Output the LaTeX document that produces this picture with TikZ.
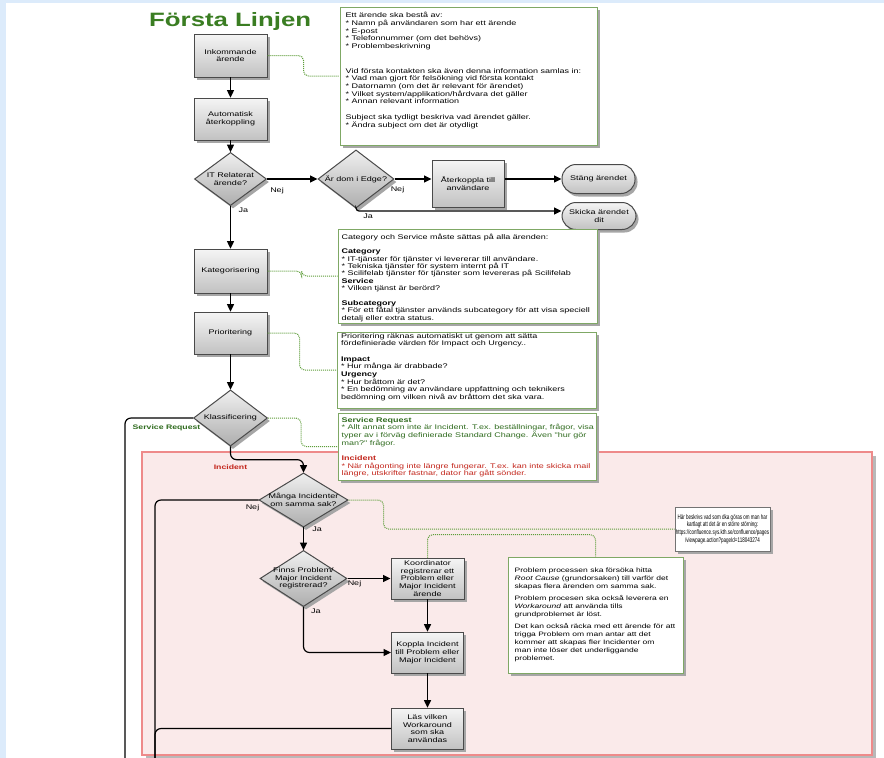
\documentclass[tikz,border=0pt]{standalone}
\usepackage{fontspec}
\setmainfont{Liberation Sans}[Ligatures=TeXOff]
\usetikzlibrary{shapes.geometric,shadows,calc,arrows.meta}

\definecolor{pagebg}{HTML}{DCEBFB}
\definecolor{titlegreen}{HTML}{3A7D22}
\definecolor{notegreen}{HTML}{7FA865}
\definecolor{dotgreen}{HTML}{5E9E3A}
\definecolor{srgreen}{HTML}{2F6B1E}
\definecolor{incred}{HTML}{C3261C}
\definecolor{boxedge}{HTML}{4A4A4A}
\definecolor{pinkfill}{HTML}{FAEAEA}
\definecolor{pinkedge}{HTML}{EE8A8A}

\newcommand{\fsz}[2]{\fontsize{#1}{#2}\selectfont}

\tikzset{
  sz/.style 2 args={minimum width=#1pt, minimum height=#2*1.333333pt},
  casting/.style={drop shadow={shadow xshift=2.5pt, shadow yshift=-3pt, fill=black!35, opacity=1}},
  stepbox/.style={rectangle, draw=boxedge, line width=1pt, top color=black!4, bottom color=black!24,
    casting, inner sep=0pt, align=center, font=\fsz{9}{10.4}},
  terminal/.style={stepbox, rounded corners=14pt},
  decision/.style={diamond, draw=boxedge, line width=1pt, top color=black!6, bottom color=black!32,
    casting, inner sep=0pt},
  dtext/.style={inner sep=0pt, align=center, font=\fsz{9}{10}},
  notebox/.style={rectangle, draw=notegreen, line width=1pt, fill=white, casting, inner sep=0pt},
  notetext/.style={anchor=north west, inner sep=0pt, align=left, font=\fsz{9}{10.2}},
  flow/.style={draw=black, line width=1.2pt, rounded corners=6pt},
  conn/.style={flow, -{Triangle[length=7.5pt,width=7pt]}},
  note/.style={draw=dotgreen, line width=1pt, dash pattern=on 1pt off 1pt, rounded corners=5pt},
  lbl/.style={inner sep=0pt, font=\fsz{9}{10}},
}

\begin{document}
\begin{tikzpicture}[x=1pt, y=-1.333333pt, yscale=0.75, transform shape]
\useasboundingbox (0,0) rectangle (884,758);
\fill[pagebg] (0,0) rectangle (884,758);
\fill[white] (6,3) rectangle (884,758);

% incident lane
\fill[black!28] (146,456) rectangle (875.5,758);
\draw[pinkedge, fill=pinkfill, line width=1.2pt] (142,452) rectangle (872,755);

\node[anchor=base west, inner sep=0pt, font=\fsz{25.8}{30}\bfseries, text=titlegreen] (title) at (149,26) {Första Linjen};

% main column
\node[stepbox, sz={73}{43}] (ink) at (230.5,55.5) {Inkommande\\ärende};
\node[stepbox, sz={73}{42}] (auto) at (230.5,119) {Automatisk\\återkoppling};
\node[decision, sz={72}{53}] (itrel) at (230.5,179) {};
\node[dtext] (itrelt) at (itrel) {IT Relaterat\\ärende?};
\node[decision, sz={76}{58}] (edge) at (356,179) {};
\node[dtext] (edget) at (edge) {Är dom i Edge?};
\node[stepbox, sz={72}{47}] (feedback) at (468,183.5) {Återkoppla till\\användare};
\node[terminal, sz={73}{29}] (close) at (598.5,179) {Stäng ärendet};
\node[terminal, sz={74}{27}] (send) at (599,216) {Skicka ärendet\\dit};
\node[stepbox, sz={73}{44}] (cat) at (230.5,271) {Kategorisering};
\node[stepbox, sz={73}{42}] (prio) at (230.5,333) {Prioritering};
\node[decision, sz={74}{56}] (klass) at (230.5,418) {};
\node[dtext] (klasst) at (klass) {Klassificering};

% incident handling
\node[decision, sz={89}{54}] (many) at (303.5,500) {};
\node[dtext] (manyt) at (many) {Många Incidenter\\om samma sak?};
\node[decision, sz={87}{56}] (exists) at (303.5,578.5) {};
\node[dtext] (existst) at (exists) {Finns Problem/\\Major Incident\\registrerad?};
\node[stepbox, sz={73}{41}] (coord) at (427.5,578.5) {Koordinator\\registrerar ett\\Problem eller\\Major Incident\\ärende};
\node[stepbox, sz={72}{41}] (link) at (427.5,652.5) {Koppla Incident\\till Problem eller\\Major Incident};
\node[stepbox, sz={72}{41}] (workaround) at (427.5,728.5) {Läs vilken\\Workaround\\som ska\\användas};

% notes
\node[notebox, sz={257}{138}] (ann1) at (468.5,76) {};
\node[notetext] (ann1t) at ($(ann1.north west)+(6,5.5)$) {Ett ärende ska bestå av:\\
* Namn på användaren som har ett ärende\\
* E-post\\
* Telefonnummer (om det behövs)\\
* Problembeskrivning\\[23pt]
Vid första kontakten ska även denna information samlas in:\\
* Vad man gjort för felsökning vid första kontakt\\
* Datornamn (om det är relevant för ärendet)\\
* Vilket system/applikation/hårdvara det gäller\\
* Annan relevant information\\[11pt]
Subject ska tydligt beskriva vad ärendet gäller.\\
* Ändra subject om det är otydligt};

\node[notebox, sz={259}{94}] (ann2) at (467.5,276) {};
\node[notetext, font=\fsz{9}{9.8}] (ann2t) at ($(ann2.north west)+(4,5)$) {Category och Service måste sättas på alla ärenden:\\[9.8pt]
\textbf{Category}\\
* IT-tjänster för tjänster vi levererar till användare.\\
* Tekniska tjänster för system internt på IT\\
* Scilifelab tjänster för tjänster som levereras på Scilifelab\\
\textbf{Service}\\
* Vilken tjänst är berörd?\\[9.8pt]
\textbf{Subcategory}\\
* För ett fåtal tjänster används subcategory för att visa speciell\\
detalj eller extra status.};

\node[notebox, sz={259}{76}] (ann3) at (466.5,370) {};
\node[notetext] (ann3t) at ($(ann3.north west)+(4.5,1.5)$) {Prioritering räknas automatiskt ut genom att sätta\\
fördefinierade värden för Impact och Urgency..\\[10.2pt]
\textbf{Impact}\\
* Hur många är drabbade?\\
\textbf{Urgency}\\
* Hur bråttom är det?\\
* En bedömning av användare uppfattning och teknikers\\
bedömning om vilken nivå av bråttom det ska vara.};

\node[notebox, sz={258}{67}] (ann4) at (467,446.5) {};
\node[notetext] (ann4t) at ($(ann4.north west)+(4,4.5)$) {\textcolor{srgreen}{\textbf{Service Request}}\\
\textcolor{srgreen}{* Allt annat som inte är Incident. T.ex. beställningar, frågor, visa}\\
\textcolor{srgreen}{typer av i förväg definierade Standard Change. Även "hur gör}\\
\textcolor{srgreen}{man?" frågor.}\\[10.2pt]
\textcolor{incred}{\textbf{Incident}}\\
\textcolor{incred}{* När någonting inte längre fungerar. T.ex. kan inte skicka mail}\\
\textcolor{incred}{längre, utskrifter fastnar, dator har gått sönder.}};

\node[notebox, sz={175}{116}] (problem) at (595.5,615) {};
\node[notetext, font=\fsz{8.5}{10.5}] (problemt) at ($(problem.north west)+(7,11)$) {Problem processen ska försöka hitta\\
\textit{Root Cause} (grundorsaken) till varför det\\
skapas flera ärenden om samma sak.\\[5.9pt]
Problem procesen ska också leverera en\\
\textit{Workaround} att använda tills\\
grundproblemet är löst.\\[5.9pt]
Det kan också räcka med ett ärende för att\\
trigga Problem om man antar att det\\
kommer att skapas fler Incidenter om\\
man inte löser det underliggande\\
problemet.};

\node[notebox, draw=black!55, sz={95}{44}] (here) at (722.5,529) {};
\node[dtext, xscale=0.5, font=\fsz{9}{10.2}] (heret) at (here) {Här beskrivs vad som dka göras om man har\\
kartlagt att det är en större störning:\\
https://confluence.sys.kth.se/confluence/pages\\
/viewpage.action?pageId=118043274};

% free ends of the lines leaving the page
\coordinate (srend) at (125,758);
\coordinate (nejend) at (155,758);
\coordinate (lanein) at ($(many.north)+(0,-13)$);
\coordinate (sendin) at ($(send.west)+(0,-5)$);
\coordinate (probin) at ($(problem.north)+(0,-22)$);

% flow
\draw[conn] (ink) -- (auto);
\draw[conn] (auto) -- (itrel);
\draw[conn] (itrel.east) -- (edge.west);
\draw[conn] (edge.east) -- (edge.east -| feedback.west);
\draw[conn] (edge.east -| feedback.east) -- (close.west);
\draw[conn, rounded corners=3pt] (edge.south) |- (sendin);
\draw[conn] (itrel.south) -- (cat.north);
\draw[conn] (cat) -- (prio);
\draw[conn] (prio) -- (klass);
\draw[flow] (klass.west) -| (srend);
\draw[conn] (klass.south) |- (lanein) -- (many.north);
\draw[flow] (many.west) -| (nejend);
\draw[conn] (many) -- (exists);
\draw[conn] (exists.east) -- (exists.east -| coord.west);
\draw[conn] (exists.south) |- (link.west);
\draw[conn] (coord) -- (link);
\draw[conn] (link) -- (workaround);
\draw[flow] (workaround.west) -| (nejend);

% note links
\draw[note] (ink.east) -- ++(36,0) |- (ann1.west);
\draw[note] (cat.east) -- ++(34,0) |- (ann2.west);
\draw[note] (prio.east) -- ++(32,0) |- (ann3.west);
\draw[note] (klass.east) -- ++(33,0) |- (ann4.west);
\draw[note] (many.east) -- ++(35,0) |- (here.west);
\draw[note] (coord.north) |- (probin) -- (problem.north);

% branch labels
\node[lbl] (l1) at (277,191) {Nej};
\node[lbl] (l2) at (243.5,210) {Ja};
\node[lbl] (l3) at (397.5,190) {Nej};
\node[lbl] (l4) at (368,216) {Ja};
\node[lbl] (l5) at (252.5,508) {Nej};
\node[lbl] (l6) at (317,529.5) {Ja};
\node[lbl] (l7) at (354.5,583.5) {Nej};
\node[lbl] (l8) at (316,611) {Ja};
\node[lbl, font=\fsz{8.7}{10}\bfseries, text=srgreen] (srl) at (166.5,428.3) {Service Request};
\node[lbl, font=\fsz{8.7}{10}\bfseries, text=incred] (incl) at (230.5,467) {Incident};
\end{tikzpicture}
\end{document}
